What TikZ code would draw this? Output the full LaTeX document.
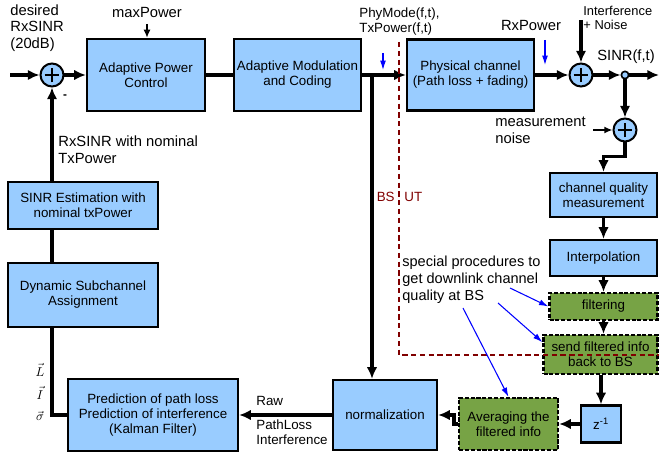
\documentclass[tikz,border=0pt]{standalone}
\usepackage{fontspec}
\setmainfont{Liberation Sans}
\usetikzlibrary{arrows.meta}
\definecolor{boxblue}{RGB}{153,204,255}
\definecolor{filtgreen}{RGB}{119,163,69}
\definecolor{borderred}{RGB}{128,0,0}

\begin{document}
\begin{tikzpicture}[x=0.03cm,y=-0.03cm,
  font=\fontsize{11.4}{12.8}\selectfont,
  block/.style={draw,line width=1.9pt,fill=boxblue,align=center,inner sep=1pt},
  gblock/.style={block,fill=filtgreen,dash pattern=on 3.5pt off 1.5pt},
  sumnode/.style={circle,draw,line width=1.7pt,fill=boxblue,minimum size=0.69cm,inner sep=0pt,
    path picture={\draw[line width=1.4pt]
      (path picture bounding box.center) ++(-0.22cm,0) -- ++(0.44cm,0)
      (path picture bounding box.center) ++(0,-0.22cm) -- ++(0,0.44cm);}},
  wire/.style={line width=2.9pt},
  arr/.style={wire,-{Latex[length=10pt,width=9pt]}},
  feed/.style={line width=1.8pt,-{Latex[length=7pt,width=6pt]}},
  hint/.style={blue,line width=0.9pt,-{Latex[length=8pt,width=5pt]}},
  note/.style={align=left,inner sep=1pt},
  bignote/.style={note,font=\fontsize{12.6}{14.2}\selectfont}]

  \useasboundingbox (0,0) rectangle (659,457);

  % forward path
  \coordinate (in) at (10,75);
  \node[sumnode] (sum1) at (52,75) {};
  \node[block,minimum width=3.54cm,minimum height=2.16cm] (apc) at (146,75) {Adaptive Power\\Control};
  \node[block,minimum width=3.81cm,minimum height=2.16cm] (amc) at (297.5,75) {Adaptive Modulation\\and Coding};
  \node[block,minimum width=3.81cm,minimum height=2.13cm] (phy) at (470.5,75) {Physical channel\\(Path loss + fading)};
  \node[sumnode] (sum2) at (581,75) {};
  \node[circle,draw,line width=1.4pt,fill=boxblue,minimum size=0.22cm,inner sep=0pt] (tap) at (625,75) {};
  \coordinate (out) at (659,75);
  \coordinate (split) at (372,75);
  \coordinate (pmax) at (147,24);
  \coordinate (noise) at (581,20);

  % UT side
  \node[sumnode] (sum3) at (625,130) {};
  \coordinate (mnoise) at (593,130);
  \node[block,minimum width=3.21cm,minimum height=1.32cm] (cqm) at (603.5,195) {channel quality\\measurement};
  \node[block,minimum width=3.21cm,minimum height=1.08cm] (interp) at (603.5,258) {Interpolation};
  \node[gblock,minimum width=3.24cm,minimum height=0.81cm] (filt) at (603.5,306.5) {filtering};
  \node[gblock,minimum width=3.42cm,minimum height=1.17cm] (send) at (600.5,354.5) {send filtered info\\back to BS};

  % BS side
  \node[block,minimum width=1.2cm,minimum height=1.11cm] (zinv) at (601,424) {z\textsuperscript{-1}};
  \node[gblock,minimum width=2.97cm,minimum height=1.56cm] (avg) at (508.5,424) {Averaging the\\filtered info};
  \node[block,minimum width=3.12cm,minimum height=2.1cm] (norm) at (385,415) {normalization};
  \node[block,minimum width=5.1cm,minimum height=2.16cm] (pred) at (153,415) {Prediction of path loss\\Prediction of interference\\(Kalman Filter)};
  \node[block,minimum width=4.5cm,minimum height=1.92cm] (dsa) at (83,295) {Dynamic Subchannel\\Assignment};
  \node[block,minimum width=4.5cm,minimum height=1.41cm] (est) at (83,205.5) {SINR Estimation with\\nominal txPower};

  % connectors
  \draw[arr] (in) -- (sum1);
  \draw[arr] (sum1) -- (apc);
  \draw[feed] (pmax) -- (pmax |- apc.north);
  \draw[wire] (apc) -- (amc);
  \draw[arr] (amc) -- (phy);
  \draw[arr] (phy) -- (sum2);
  \draw[arr] (noise) -- (sum2);
  \draw[arr] (sum2) -- (tap);
  \draw[arr] (tap) -- (out);
  \draw[arr] (split) -- (split |- norm.north);
  \draw[arr] (tap) -- (sum3);
  \draw[feed] (mnoise) -- (sum3);
  \draw[arr] (sum3.south) -- ++(0,14) -| (cqm.north);
  \draw[arr] (cqm) -- (interp);
  \draw[arr] (interp) -- (filt);
  \draw[arr] (filt.south) -- (filt.south |- send.north);
  \draw[arr] (send.south -| zinv) -- (zinv);
  \draw[arr] (zinv) -- (avg);
  \draw[arr] (avg.west) -- ++(-4,0) |- (norm.east);
  \draw[arr] (norm) -- (pred);
  \draw[wire] (pred.west) -| (dsa.south -| sum1);
  \draw[wire] (dsa.north -| sum1) -- (est.south -| sum1);
  \draw[arr] (est.north -| sum1) -- (sum1);

  % blue markers
  \coordinate (pm1) at (383,53);
  \coordinate (pm2) at (383,70);
  \draw[hint] (pm1) -- (pm2);
  \coordinate (rx1) at (545,40);
  \coordinate (rx2) at (545,65);
  \draw[hint] (rx1) -- (rx2);

  % BS / UT border
  \draw[borderred,line width=2.4pt,dash pattern=on 4.5pt off 3pt] (399,42) -- (399,355) -- (659,355);
  \node[note,text=borderred,anchor=east] (bs) at (396,197) {BS};
  \node[note,text=borderred,anchor=west] (ut) at (403,197) {UT};

  % labels
  \node[bignote,anchor=west] (desired) at (9,28) {desired\\RxSINR\\(20dB)};
  \node[bignote] (maxp) at (147,12) {maxPower};
  \node[bignote,font=\bfseries] (minus) at (65,97) {-};
  \node[note,anchor=west] (phymode) at (358,22) {PhyMode(f,t),\\TxPower(f,t)};
  \node[bignote] (rxp) at (531,25) {RxPower};
  \node[note,anchor=west,font=\fontsize{11}{12}\selectfont] (intf) at (582,18) {Interference\\+ Noise};
  \node[bignote] (sinr) at (626,57) {SINR(f,t)};
  \node[bignote,anchor=west] (mnl) at (494,130) {measurement\\noise};
  \node[bignote,anchor=west] (rxsinr) at (57,150) {RxSINR with nominal\\TxPower};
  \node[note,anchor=west] (raw) at (255,401) {Raw};
  \node[note,anchor=west] (pli) at (255,432.5) {PathLoss\\Interference};
  \node[inner sep=0pt] (vl) at (40,370) {$\vec{L}$};
  \node[inner sep=0pt] (vi) at (40,393) {$\vec{I}$};
  \node[inner sep=0pt] (vs) at (40,416) {$\vec{\sigma}$};

  % downlink note
  \node[bignote,anchor=west,font=\fontsize{12.4}{14.5}\selectfont] (spec) at (401,280) {special procedures to\\get downlink channel\\quality at BS};
  \coordinate (sp1) at (510,288);
  \coordinate (sp2) at (498,303);
  \coordinate (sp3) at (463,308);
  \draw[hint] (sp1) -- (filt.west);
  \draw[hint] (sp2) -- (send.168);
  \draw[hint] (sp3) -- (avg.north);
\end{tikzpicture}
\end{document}
